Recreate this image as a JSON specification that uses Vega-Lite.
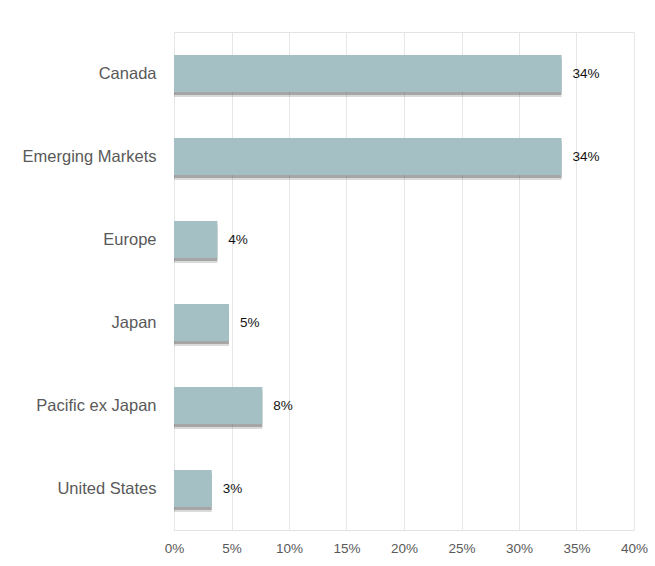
{
  "$schema": "https://vega.github.io/schema/vega-lite/v6.json",
  "width": 460,
  "height": 498,
  "autosize": {"type": "none"},
  "padding": {"left": 174, "top": 32, "right": 21, "bottom": 36},
  "background": "white",
  "config": {
    "view": {"stroke": "#e3e3e3", "strokeWidth": 1},
    "font": "Liberation Sans"
  },
  "data": {
    "values": [
      {"region": "Canada", "share": 0.337, "label": "34%"},
      {"region": "Emerging Markets", "share": 0.337, "label": "34%"},
      {"region": "Europe", "share": 0.0377, "label": "4%"},
      {"region": "Japan", "share": 0.0478, "label": "5%"},
      {"region": "Pacific ex Japan", "share": 0.0768, "label": "8%"},
      {"region": "United States", "share": 0.0328, "label": "3%"}
    ]
  },
  "encoding": {
    "y": {
      "field": "region",
      "type": "nominal",
      "sort": ["Canada", "Emerging Markets", "Europe", "Japan", "Pacific ex Japan", "United States"],
      "scale": {"paddingInner": 0.555, "paddingOuter": 0.2775},
      "axis": {
        "title": null,
        "ticks": false,
        "domain": false,
        "labelFontSize": 16.5,
        "labelColor": "#595959",
        "labelPadding": 18,
        "labelFont": "Liberation Sans"
      }
    },
    "x": {
      "field": "share",
      "type": "quantitative",
      "scale": {"domain": [0, 0.4], "nice": false},
      "axis": {
        "title": null,
        "format": ".0%",
        "values": [0, 0.05, 0.1, 0.15, 0.2, 0.25, 0.3, 0.35, 0.4],
        "ticks": false,
        "domain": false,
        "grid": true,
        "gridColor": "#e6e6e6",
        "gridWidth": 1,
        "labelFlush": false,
        "labelFontSize": 13.5,
        "labelColor": "#595959",
        "labelPadding": 11,
        "labelFont": "Liberation Sans"
      }
    }
  },
  "layer": [
    {"mark": {"type": "bar", "color": "#444444", "opacity": 0.2, "yOffset": 5}},
    {"mark": {"type": "bar", "color": "#444444", "opacity": 0.35, "yOffset": 3}},
    {"mark": {"type": "bar", "color": "#a4c0c4"}},
    {
      "mark": {"type": "text", "align": "left", "dx": 11, "fontSize": 13.5, "color": "#111111", "font": "Liberation Sans"},
      "encoding": {"text": {"field": "label"}}
    }
  ]
}
